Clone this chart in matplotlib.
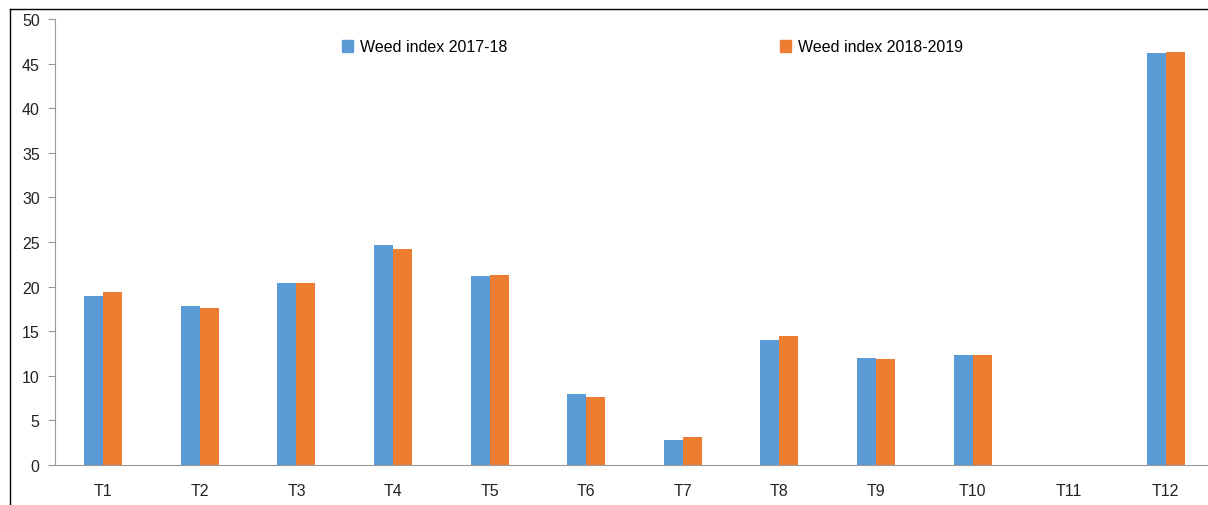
import matplotlib
matplotlib.use("Agg")
import matplotlib.pyplot as plt
from matplotlib.lines import Line2D
from matplotlib.patches import Patch
import numpy as np

categories = ["T1", "T2", "T3", "T4", "T5", "T6", "T7", "T8", "T9", "T10", "T11", "T12"]
weed_2017_18 = [19.0, 17.8, 20.4, 24.7, 21.2, 8.0, 2.8, 14.0, 12.0, 12.3, 0.0, 46.2]
weed_2018_19 = [19.4, 17.6, 20.4, 24.2, 21.3, 7.6, 3.1, 14.5, 11.9, 12.3, 0.0, 46.3]
series_labels = ["Weed index 2017-18", "Weed index 2018-2019"]
colors = ["#5B9BD5", "#ED7D31"]

plt.rcParams['font.family'] = ['Liberation Sans', 'DejaVu Sans']

W, H = 1208, 506
ax_left, ax_right, ax_bottom, ax_top = 55, 1214, 466, 20
fig = plt.figure(figsize=(W / 100, H / 100), dpi=100)
ax = fig.add_axes([ax_left / W, (H - ax_bottom) / H, (ax_right - ax_left) / W, (ax_bottom - ax_top) / H])
ax.set_clip_on(False)

x = np.arange(len(categories))
bw = 0.197
ax.bar(x - bw / 2, weed_2017_18, bw, color=colors[0], label=series_labels[0])
ax.bar(x + bw / 2, weed_2018_19, bw, color=colors[1], label=series_labels[1])

ax.set_xlim(-0.5, len(categories) - 0.5)
ax.set_ylim(0, 50)
ax.set_yticks(np.arange(0, 51, 5))
ax.set_xticks(x)
ax.set_xticklabels(categories)
ax.tick_params(axis='x', length=0, pad=13, labelsize=11.5, colors='#222222')
ax.tick_params(axis='y', length=5, width=0.8, color='#999999', pad=6, labelsize=11.5, labelcolor='#222222')
for s in ['top', 'right']:
    ax.spines[s].set_visible(False)
ax.spines['left'].set_color('#999999')
ax.spines['bottom'].set_color('#999999')
ax.spines['left'].set_linewidth(0.8)
ax.spines['bottom'].set_linewidth(0.8)

# Legend entries, one per series, positioned in axes coordinates
width_px = ax_right - ax_left
handles = [Patch(color=c) for c in colors]
legs = []
for h, lab, xpx in zip(handles, series_labels, [342, 780]):
    leg = ax.legend([h], [lab], loc='center left',
                    bbox_to_anchor=((xpx - ax_left) / width_px, (ax_bottom - 48) / (ax_bottom - ax_top)),
                    frameon=False, fontsize=11.5, handlelength=0.7, handleheight=0.7,
                    handletextpad=0.45, borderpad=0, borderaxespad=0)
    legs.append(leg)
for leg in legs[:-1]:
    ax.add_artist(leg)

# Outer frame lines (left and top)
fig.add_artist(Line2D([10 / W, 10 / W], [0, 1 - 10 / H], color='black', lw=1, transform=fig.transFigure))
fig.add_artist(Line2D([10 / W, 1], [1 - 10 / H, 1 - 10 / H], color='black', lw=1, transform=fig.transFigure))

fig.savefig("out.png", dpi=100)
